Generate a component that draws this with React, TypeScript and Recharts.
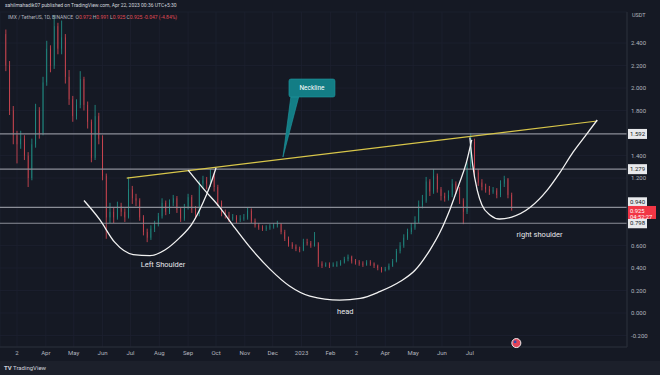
import {
  ComposedChart, Bar, Line, XAxis, YAxis, CartesianGrid, ReferenceLine, ReferenceDot,
} from 'recharts';

// 4-day candles, first one 12 days before Mar 1 2022 (day 0)
const START_DAY = -12;
const STEP = 4;

const OPEN = [
  2.48, 2.20, 1.80, 1.58, 1.50, 1.55, 1.40, 1.20, 1.50, 1.80, 1.60, 2.05, 2.35, 2.20, 2.55, 2.35, 2.45, 2.10, 1.90, 1.75,
  1.85, 2.08, 1.85, 1.70, 1.38, 1.75, 1.55, 1.22, 0.85, 0.90, 0.85, 0.95, 0.90, 0.85, 1.10, 1.02, 1.00, 0.85, 0.72, 0.67,
  0.75, 0.79, 0.86, 0.98, 0.90, 0.98, 1.02, 0.92, 0.84, 0.94, 1.03, 0.92, 0.88, 1.15, 1.18, 1.15, 1.22, 1.12, 0.98, 0.89,
  0.87, 0.84, 0.85, 0.83, 0.84, 0.85, 0.91, 0.82, 0.78, 0.76, 0.75, 0.76, 0.77, 0.78, 0.79, 0.72, 0.66, 0.61, 0.59, 0.57,
  0.56, 0.63, 0.62, 0.60, 0.62, 0.44, 0.42, 0.43, 0.42, 0.43, 0.43, 0.45, 0.48, 0.50, 0.46, 0.45, 0.44, 0.43, 0.45, 0.44,
  0.42, 0.40, 0.38, 0.39, 0.42, 0.46, 0.55, 0.60, 0.67, 0.72, 0.76, 0.82, 0.96, 1.00, 1.17, 1.08, 1.22, 1.10, 1.04, 1.02,
  1.05, 1.15, 1.10, 1.00, 0.90, 1.30, 1.52, 1.25, 1.16, 1.12, 1.10, 1.08, 1.09, 1.05, 1.15, 1.19, 1.05,
];
const HIGH = [
  2.52, 2.24, 1.84, 1.62, 1.62, 1.58, 1.43, 1.55, 1.86, 1.83, 2.10, 2.42, 2.38, 2.65, 2.58, 2.60, 2.48, 2.16, 1.93, 1.90,
  2.15, 2.10, 1.88, 1.72, 1.85, 1.78, 1.58, 1.24, 0.98, 0.94, 0.99, 0.98, 0.93, 1.21, 1.13, 1.06, 1.02, 0.87, 0.75, 0.78,
  0.82, 0.89, 1.02, 1.00, 1.01, 1.05, 1.04, 0.94, 0.97, 1.06, 1.05, 0.95, 1.18, 1.22, 1.21, 1.28, 1.24, 1.14, 1.00, 0.92,
  0.90, 0.88, 0.87, 0.87, 0.88, 0.94, 0.93, 0.84, 0.80, 0.78, 0.78, 0.79, 0.80, 0.82, 0.80, 0.74, 0.68, 0.63, 0.61, 0.59,
  0.66, 0.66, 0.64, 0.72, 0.63, 0.46, 0.45, 0.45, 0.45, 0.46, 0.47, 0.50, 0.52, 0.51, 0.48, 0.47, 0.46, 0.47, 0.47, 0.45,
  0.43, 0.41, 0.41, 0.44, 0.48, 0.57, 0.63, 0.70, 0.75, 0.80, 0.86, 1.00, 1.05, 1.21, 1.19, 1.28, 1.24, 1.12, 1.07, 1.09,
  1.19, 1.17, 1.12, 1.02, 1.34, 1.60, 1.55, 1.28, 1.19, 1.15, 1.13, 1.12, 1.11, 1.18, 1.22, 1.20, 1.07,
];
const LOW = [
  2.15, 1.76, 1.50, 1.33, 1.46, 1.36, 1.12, 1.18, 1.47, 1.55, 1.58, 2.02, 2.14, 2.17, 2.30, 2.30, 2.04, 1.85, 1.70, 1.72,
  1.82, 1.80, 1.64, 1.34, 1.36, 1.50, 1.18, 0.66, 0.80, 0.80, 0.83, 0.86, 0.81, 0.84, 0.97, 0.95, 0.82, 0.69, 0.63, 0.65,
  0.72, 0.77, 0.84, 0.87, 0.88, 0.95, 0.89, 0.81, 0.82, 0.92, 0.89, 0.84, 0.86, 1.11, 1.10, 1.12, 1.08, 0.95, 0.86, 0.84,
  0.81, 0.82, 0.80, 0.81, 0.82, 0.83, 0.80, 0.76, 0.74, 0.73, 0.73, 0.74, 0.75, 0.76, 0.70, 0.64, 0.59, 0.57, 0.55, 0.54,
  0.55, 0.60, 0.58, 0.59, 0.41, 0.40, 0.41, 0.40, 0.41, 0.41, 0.42, 0.44, 0.46, 0.44, 0.43, 0.42, 0.41, 0.42, 0.42, 0.40,
  0.38, 0.36, 0.37, 0.38, 0.41, 0.45, 0.53, 0.58, 0.65, 0.70, 0.74, 0.80, 0.93, 0.98, 1.04, 1.06, 1.07, 1.00, 0.99, 1.00,
  1.03, 1.06, 0.97, 0.79, 0.88, 1.28, 1.20, 1.13, 1.09, 1.07, 1.05, 1.06, 1.02, 1.03, 1.12, 1.02, 0.91,
];
const CLOSE = [
  2.20, 1.80, 1.58, 1.50, 1.55, 1.40, 1.20, 1.50, 1.80, 1.60, 2.05, 2.35, 2.20, 2.55, 2.35, 2.45, 2.10, 1.90, 1.75, 1.85,
  2.08, 1.85, 1.70, 1.38, 1.75, 1.55, 1.22, 0.85, 0.90, 0.85, 0.95, 0.90, 0.85, 1.10, 1.02, 1.00, 0.85, 0.72, 0.67, 0.75,
  0.79, 0.86, 0.98, 0.90, 0.98, 1.02, 0.92, 0.84, 0.94, 1.03, 0.92, 0.88, 1.15, 1.18, 1.15, 1.22, 1.12, 0.98, 0.89, 0.87,
  0.84, 0.85, 0.83, 0.84, 0.85, 0.91, 0.82, 0.78, 0.76, 0.75, 0.76, 0.77, 0.78, 0.79, 0.72, 0.66, 0.61, 0.59, 0.57, 0.56,
  0.63, 0.62, 0.60, 0.62, 0.44, 0.42, 0.43, 0.42, 0.43, 0.43, 0.45, 0.48, 0.50, 0.46, 0.45, 0.44, 0.43, 0.45, 0.44, 0.42,
  0.40, 0.38, 0.39, 0.42, 0.46, 0.55, 0.60, 0.67, 0.72, 0.76, 0.82, 0.96, 1.00, 1.17, 1.08, 1.22, 1.10, 1.04, 1.02, 1.05,
  1.15, 1.10, 1.00, 0.90, 1.30, 1.52, 1.25, 1.16, 1.12, 1.10, 1.08, 1.09, 1.05, 1.15, 1.19, 1.05, 0.925,
];

const MONTH_DAYS = [0, 31, 61, 92, 122, 153, 184, 214, 245, 275, 306, 337, 365, 396, 426, 457, 487];
const MONTH_LABELS = ['2', 'Apr', 'May', 'Jun', 'Jul', 'Aug', 'Sep', 'Oct', 'Nov', 'Dec', '2023', 'Feb', '2', 'Apr', 'May', 'Jun', 'Jul'];
const PRICE_TICKS = [-0.2, 0, 0.2, 0.4, 0.6, 1.2, 1.4, 1.8, 2.0, 2.2, 2.4];

const LEVELS = [1.592, 1.279, 0.940, 0.798];
const LEVEL_SHIFT = [0, 0, -5, 0];

// drawn annotations, [day, price]
const NECKLINE = [[118, 1.20], [624, 1.707]];
const LEFT_SHOULDER = [
  [72, 1.00], [89, 0.83], [105, 0.63], [125, 0.52], [143, 0.51], [159, 0.56], [175, 0.67],
  [188, 0.79], [200, 0.98], [207.5, 1.13], [214, 1.29],
];
const HEAD = [
  [184, 1.27], [202, 1.09], [218, 0.94], [234, 0.76], [250, 0.59], [272, 0.39], [293, 0.24],
  [315, 0.15], [347, 0.115], [369, 0.13], [390, 0.19], [412, 0.28], [428, 0.38], [444, 0.56],
  [455, 0.72], [466, 0.93], [476, 1.16], [483, 1.33], [489, 1.54],
];
const RIGHT_SHOULDER = [
  [487, 1.56], [490, 1.32], [495, 1.09], [500, 0.96], [509, 0.87], [519, 0.836], [532, 0.853],
  [552, 0.94], [570, 1.09], [584, 1.25], [598, 1.43], [611, 1.573], [624, 1.716],
];

const BG = '#151924';
const UP = '#22998e';
const DOWN = '#e04a55';
const TEXT = '#b2b5be';
const FONT = 'Roboto, "Noto Sans", sans-serif';

const candles = CLOSE.map((c, i) => ({
  day: START_DAY + i * STEP,
  open: OPEN[i], high: HIGH[i], low: LOW[i], close: c,
  range: [LOW[i], HIGH[i]],
}));
const toPts = (arr: number[][]) => arr.map(([day, p]) => ({ day, p }));

const Candle = (props: any) => {
  const { x, y, width, height, payload } = props;
  const { open, close, high, low } = payload;
  const top = Math.min(y, y + height);
  const h = Math.abs(height);
  const px = (v: number) => top + ((high - v) / (high - low)) * h;
  const color = close >= open ? UP : DOWN;
  const yo = px(open);
  const yc = px(close);
  const cx = x + width / 2;
  return (
    <g>
      <line x1={cx} x2={cx} y1={top} y2={top + h} stroke={color} strokeWidth={0.8} />
      <rect x={x} y={Math.min(yo, yc)} width={width} height={Math.max(1, Math.abs(yo - yc))} fill={color} />
    </g>
  );
};

const levelLabel = (value: number, shift: number) => (props: any) => {
  const { viewBox } = props;
  const x = viewBox.x + viewBox.width + 1;
  const y = viewBox.y + shift;
  return (
    <g>
      <rect x={x} y={y - 5} width={19} height={10} fill="#e8e9ec" />
      <text x={x + 2} y={y} dy="0.35em" fontSize={6} fill="#131722" fontFamily={FONT}>{value.toFixed(3)}</text>
    </g>
  );
};

const lastLabel = (props: any) => {
  const { viewBox } = props;
  const x = viewBox.x + viewBox.width + 1;
  const y = viewBox.y;
  return (
    <g>
      <rect x={x} y={y - 3} width={28} height={13} fill="#f23645" />
      <text x={x + 2} y={y + 2} dy="0.35em" fontSize={5.8} fill="#fff" fontFamily={FONT}>0.925</text>
      <text x={x + 2} y={y + 7.5} dy="0.35em" fontSize={5.8} fill="#fff" fontFamily={FONT}>04:52:27</text>
    </g>
  );
};

const note = (txt: string) => (props: any) => (
  <text x={props.cx} y={props.cy} textAnchor="middle" dy="0.35em" fontSize={7.5} fill="#e6e7ea" fontFamily={FONT}>{txt}</text>
);

const Callout = (props: any) => {
  const { cx, cy } = props;
  return (
    <g>
      <polygon points={`${cx},${cy} ${cx + 8},${cy - 61} ${cx + 16},${cy - 61}`} fill="#137d85" stroke="#1f9ba3" strokeWidth={0.6} />
      <rect x={cx + 6} y={cy - 78} width={46} height={18} rx={2} fill="#137d85" stroke="#1f9ba3" strokeWidth={0.6} />
      <text x={cx + 29} y={cy - 69} textAnchor="middle" dy="0.35em" fontSize={6.5} fill="#fff" fontFamily={FONT}>Neckline</text>
    </g>
  );
};

const NewsIcon = (props: any) => (
  <g>
    <circle cx={props.cx} cy={props.cy} r={4.5} fill="#e2455a" stroke="#f0f0f0" strokeWidth={1} />
    <rect x={props.cx - 2.5} y={props.cy - 2.5} width={2.5} height={2.5} fill="#2d4fb0" />
  </g>
);

export default function App() {
  return (
    <div style={{ position: 'absolute', left: 0, top: 0, width: 660, height: 375, background: BG, overflow: 'hidden', fontFamily: FONT }}>
      <ComposedChart width={660} height={375} data={candles} margin={{ top: 12, right: 0, bottom: 15, left: 0 }}>
        <CartesianGrid stroke="#1d2130" strokeWidth={0.8} />
        <XAxis
          dataKey="day" type="number" domain={[-18.3, 656]} allowDataOverflow ticks={MONTH_DAYS}
          tickFormatter={(v: number) => MONTH_LABELS[MONTH_DAYS.indexOf(v)]}
          height={13} tickLine={false} tickSize={0} tickMargin={4}
          axisLine={{ stroke: '#2a2e39' }} tick={{ fill: TEXT, fontSize: 6, fontFamily: FONT }} interval={0}
        />
        <YAxis
          orientation="right" width={33} domain={[-0.302, 2.676]} allowDataOverflow ticks={PRICE_TICKS}
          tickFormatter={(v: number) => v.toFixed(3)} tickLine={false} tickSize={0} tickMargin={4}
          axisLine={{ stroke: '#2a2e39' }} tick={{ fill: TEXT, fontSize: 6, fontFamily: FONT }} interval={0}
        />
        {LEVELS.map((v, i) => (
          <ReferenceLine key={v} y={v} stroke="#8b8e97" strokeWidth={1.2} label={levelLabel(v, LEVEL_SHIFT[i])} />
        ))}
        <ReferenceLine y={0.925} stroke="none" label={lastLabel} />
        <Bar dataKey="range" barSize={2.8} shape={Candle} isAnimationActive={false} />
        <Line data={toPts(NECKLINE)} dataKey="p" type="linear" stroke="#d8c64a" strokeWidth={1.2} dot={false} isAnimationActive={false} />
        <Line data={toPts(LEFT_SHOULDER)} dataKey="p" type="monotone" stroke="#f2f2f2" strokeWidth={1.3} dot={false} isAnimationActive={false} />
        <Line data={toPts(HEAD)} dataKey="p" type="monotone" stroke="#f2f2f2" strokeWidth={1.3} dot={false} isAnimationActive={false} />
        <Line data={toPts(RIGHT_SHOULDER)} dataKey="p" type="monotone" stroke="#f2f2f2" strokeWidth={1.3} dot={false} isAnimationActive={false} />
        <ReferenceDot x={286} y={1.387} r={0} shape={Callout} />
        <ReferenceDot x={157} y={0.436} r={0} shape={note('Left Shoulder')} />
        <ReferenceDot x={353} y={0.018} r={0} shape={note('head')} />
        <ReferenceDot x={562} y={0.702} r={0} shape={note('right shoulder')} />
        <ReferenceDot x={537} y={-0.267} r={0} shape={NewsIcon} />
      </ComposedChart>

      <div style={{ position: 'absolute', left: 5, top: 2, fontSize: 5, color: '#d1d4dc', whiteSpace: 'nowrap' }}>
        sahilmahadik07 published on TradingView.com, Apr 22, 2023 00:36 UTC+5:30
      </div>
      <div style={{ position: 'absolute', left: 8, top: 14, fontSize: 5, color: TEXT, whiteSpace: 'nowrap' }}>
        IMX / TetherUS, 1D, BINANCE&nbsp;&nbsp;O<span style={{ color: DOWN }}>0.972</span> H<span style={{ color: DOWN }}>0.991</span> L<span style={{ color: DOWN }}>0.925</span> C<span style={{ color: DOWN }}>0.925</span> <span style={{ color: DOWN }}>-0.047 (-4.84%)</span>
      </div>
      <div style={{ position: 'absolute', left: 632, top: 12, fontSize: 5.5, color: TEXT }}>USDT</div>
      <div style={{ position: 'absolute', left: 0, top: 361, width: 660, height: 14, background: '#1c202b' }}>
        <span style={{ position: 'absolute', left: 4, top: 3, fontSize: 6, color: '#d1d4dc' }}>
          <b>TV</b> TradingView
        </span>
      </div>
    </div>
  );
}
